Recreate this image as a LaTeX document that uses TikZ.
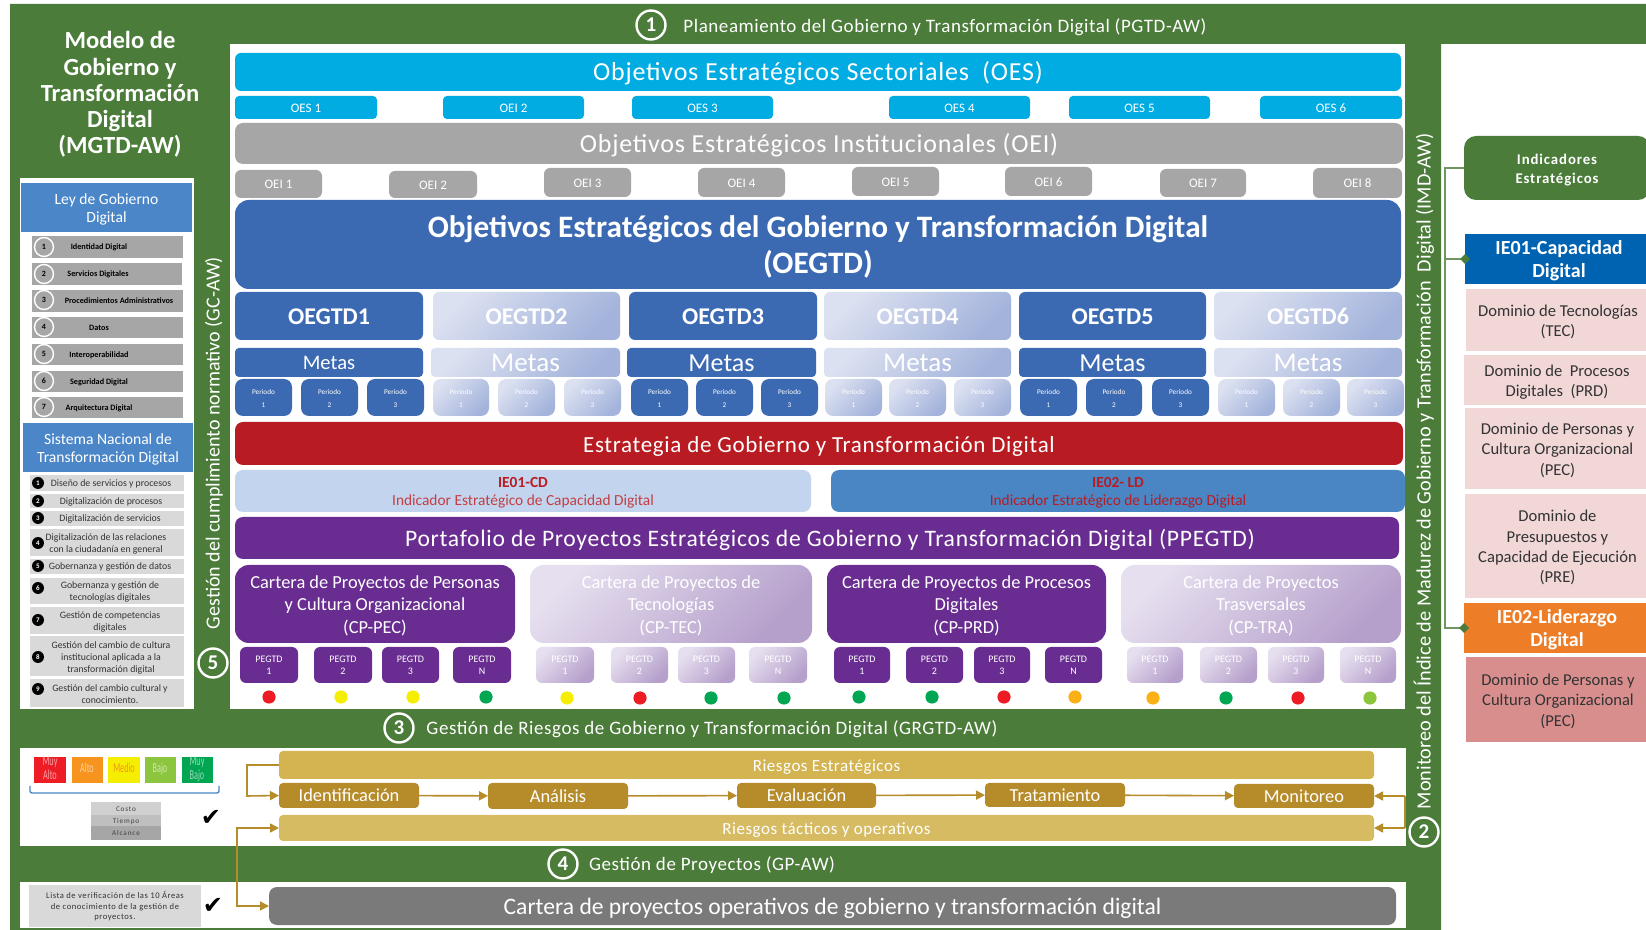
\documentclass[tikz,border=0pt]{standalone}
\usepackage{fontspec}
\usepackage{graphicx}
\setmainfont{Carlito}
\newfontfamily\symfont{DejaVu Sans}
\newfontfamily\widefont[LetterSpace=6]{Carlito}
\newfontfamily\widerfont[LetterSpace=12]{Carlito}
\newfontfamily\lsf[LetterSpace=3]{Carlito}
\usetikzlibrary{arrows.meta}
\definecolor{gr}{HTML}{4B7C39}
\definecolor{cy}{HTML}{00ACE2}
\definecolor{gy}{HTML}{A6A6A6}
\definecolor{bl}{HTML}{3C6AB2}
\definecolor{hb}{HTML}{4A86C8}
\definecolor{pu}{HTML}{692C91}
\definecolor{gd}{HTML}{B68B2A}
\definecolor{gl}{HTML}{D3B451}
\definecolor{gm}{HTML}{D6BB62}
\definecolor{rd}{HTML}{B81C22}
\definecolor{pk}{HTML}{F2D7D7}
\definecolor{cr}{HTML}{ED1C24}
\definecolor{cy1}{HTML}{F5EE00}
\definecolor{cg}{HTML}{00A651}
\definecolor{co}{HTML}{FBB116}
\definecolor{cl}{HTML}{8CC63F}
\definecolor{DCE1F1}{HTML}{DCE1F1}
\definecolor{A3B3DB}{HTML}{A3B3DB}
\definecolor{E6DFEF}{HTML}{E6DFEF}
\definecolor{B59FCB}{HTML}{B59FCB}
\definecolor{D9D9D9}{HTML}{D9D9D9}
\definecolor{C3D5EE}{HTML}{C3D5EE}
\definecolor{4A86C4}{HTML}{4A86C4}
\definecolor{7A7A7A}{HTML}{7A7A7A}
\definecolor{0063B1}{HTML}{0063B1}
\definecolor{ED7D26}{HTML}{ED7D26}
\definecolor{D98E8E}{HTML}{D98E8E}
\definecolor{D0D0D0}{HTML}{D0D0D0}
\definecolor{BFBFBF}{HTML}{BFBFBF}
\definecolor{chr}{HTML}{EE1C25}
\definecolor{cho}{HTML}{F7941D}
\definecolor{chg}{HTML}{8CC63F}
\newcommand\fs[2]{\fontsize{#1}{#2}\selectfont}
\newcommand\lift[1]{\raisebox{-.13em}[\height][\depth]{\begin{tabular}{@{}c@{}}#1\end{tabular}}}
\newcommand\chiptext[1]{\scalebox{.6}[1]{\begin{tabular}{@{}c@{}}#1\end{tabular}}}
\newcommand\bx[7]{\pgfmathsetmacro\bw{(#5-#3)*0.5}\pgfmathsetmacro\bh{(#6-#4)*0.5}%
\node[#2,minimum width=\bw pt,minimum height=\bh pt] (#1) at ({(#3+#5)/2},{(#4+#6)/2}) {\lift{#7}};}
\tikzset{
 base/.style={inner sep=0pt,outer sep=0pt,align=center,text=white},
 rr/.style={base,rounded corners=#1},
 rr/.default=4pt,
 fadeb/.style={rr=#1,top color=DCE1F1,bottom color=A3B3DB,shading angle=45},
 fadeb/.default=3pt,
 fadep/.style={rr=#1,top color=E6DFEF,bottom color=B59FCB,shading angle=45},
 fadep/.default=3pt,
 ring/.style={circle,draw=white,line width=1.2pt,fill=gr,text=white,inner sep=0pt,minimum size=14.5pt,font=\fs{10.5}{12}\bfseries},
 gring/.style={circle,draw=white,line width=.7pt,fill=gy,text=black,inner sep=0pt,minimum size=9.5pt,font=\fs{4}{5}\bfseries},
 bdot/.style={circle,fill=black,text=white,inner sep=0pt,minimum size=6pt,font=\fs{3.5}{4}\bfseries},
 ley/.style={base,fill=gy,text=black,font=\fs{4.1}{4.5}\bfseries},
 sis/.style={base,fill=D9D9D9},
 sist/.style={inner sep=0pt,align=center,text=black!80,font=\fs{4.9}{6}},
 head/.style={base,fill=hb,font=\fs{7.8}{9.1}},
 per/.style={font=\fs{3.6}{6.2}},
 peg/.style={font=\fs{5}{6.2}},
 goldbox/.style={rr=2pt,fill=gd,font=\fs{9.2}{10}},
 goldarrow/.style={draw=gd,line width=.8pt,-{Triangle[length=4.5pt,width=4.5pt]}},
 dom/.style={base,fill=pk,text=black!80,font=\fs{8.3}{10.2}},
 tick/.style={inner sep=0pt,text=black,font=\symfont\fs{12}{12}},
 chip/.style={base,font=\fs{6.8}{6.3}},
 leadline/.style={draw=gr!80!white,line width=.8pt},
 bandt/.style={text=white,font=\lsf\fs{9.5}{11}},
}
\begin{document}
\begin{tikzpicture}[x=0.5pt,y=-0.5pt]
\useasboundingbox (0,0) rectangle (1646,930);
\fill[white] (0,0) rectangle (1646,930);
\fill[gr] (10,4) -- (1646,4) -- (1646,44) -- (1441,44) -- (1441,930) -- (10,930) -- cycle;
\fill[white] (230,44) rectangle (1405,709);
\fill[white] (20,178) rectangle (194,709);
\fill[white] (20,748) rectangle (1406,846);
\fill[white] (20,882) rectangle (1406,928);
% band titles
\node[ring] (c1) at (651,25) {1};
\node[bandt] (t1) at (945,27.5) {Planeamiento del Gobierno y Transformación Digital (PGTD-AW)};
\node[ring] (c3) at (399,728) {3};
\node[bandt] (t3) at (712,729) {Gestión de Riesgos de Gobierno y Transformación Digital (GRGTD-AW)};
\node[ring] (c4) at (563,864) {4};
\node[bandt] (t4) at (712,865) {Gestión de Proyectos (GP-AW)};
\node[ring] (c5) at (213,663) {5};
\node[rotate=90,text=white,font=\fs{10}{12}] (t5) at (214,443) {Gestión del cumplimiento normativo (GC-AW)};
\node[ring] (c2) at (1424,832) {2};
\node[rotate=90,text=white,font=\fs{10.13}{12}] (t2) at (1424,471) {Monitoreo del Índice de Madurez de Gobierno y Transformación\ \ Digital (IMD-AW)};
% left title
\node[base,font=\fs{12.3}{13.1}\bfseries] (title) at (120,94.5) {Modelo de\\Gobierno y\\Transformación\\Digital\\(MGTD-AW)};
% Ley
\bx{ley}{head}{21}{183}{192}{232}{Ley de Gobierno\\Digital}
\bx{l1}{ley}{32}{236}{183}{258}{Identidad Digital\hspace*{8.5pt}}
\bx{l2}{ley}{32}{263}{182}{285}{Servicios Digitales\hspace*{9pt}}
\bx{l3}{ley}{32}{290}{183}{312}{\hspace*{11.5pt}Procedimientos Administrativos}
\bx{l4}{ley}{32}{317}{183}{338}{Datos\hspace*{8.5pt}}
\bx{l5}{ley}{32}{344}{183}{365}{Interoperabilidad\hspace*{8.5pt}}
\bx{l6}{ley}{32}{371}{183}{392}{Seguridad Digital\hspace*{8.5pt}}
\bx{l7}{ley}{32}{397}{183}{418}{Arquitectura Digital\hspace*{8.5pt}}
\foreach \i/\y in {1/247,2/274,3/300,4/327,5/354,6/381,7/407} {\node[gring] (gc\i) at (44,\y) {\i};}
% Sistema
\bx{sn}{head}{23}{423}{193}{472}{Sistema Nacional de\\Transformación Digital}
\bx{s1}{sis}{30}{475}{184}{491}{}
\bx{s2}{sis}{30}{494}{184}{508}{}
\bx{s3}{sis}{30}{511}{184}{526}{}
\bx{s4}{sis}{30}{529}{184}{556}{}
\bx{s5}{sis}{30}{559}{184}{574}{}
\bx{s6}{sis}{30}{578}{184}{604}{}
\bx{s7}{sis}{30}{607}{184}{634}{}
\bx{s8}{sis}{30}{636}{184}{676}{}
\bx{s9}{sis}{30}{679}{184}{707}{}
\node[sist] (st1) at (111,484) {Diseño de servicios y procesos};
\node[sist] (st2) at (111,502) {Digitalización de procesos};
\node[sist] (st3) at (110,519) {Digitalización de servicios};
\node[sist] (st4) at (106,544) {Digitalización de las relaciones\\con la ciudadanía en general};
\node[sist] (st5) at (110,567) {Gobernanza y gestión de datos};
\node[sist] (st6) at (110,592) {Gobernanza y gestión de\\tecnologías digitales};
\node[sist] (st7) at (110,622) {Gestión de competencias\\digitales};
\node[sist] (st8) at (111,658) {Gestión del cambio de cultura\\institucional aplicada a la\\transformación digital};
\node[sist] (st9) at (110,694) {Gestión del cambio cultural y\\conocimiento.};
\foreach \i/\y in {1/483,2/501,3/518,4/543,5/566,6/588,7/620,8/657,9/689} {\node[bdot] (bc\i) at (38,\y) {\i};}
% OES
\bx{oes}{rr=3pt,fill=cy,font=\lsf\fs{13}{14}}{235}{53}{1401}{91}{Objetivos Estratégicos Sectoriales\ \ (OES)}
\foreach \i/\a/\b/\t in {1/235/377/OES 1,2/443/584/OEI 2,3/632/773/OES 3,4/889/1030/OES 4,5/1069/1210/OES 5,6/1260/1402/OES 6}
 {\bx{oes\i}{rr=2pt,fill=cy,font=\fs{6.5}{8}}{\a}{96}{\b}{119}{\t}}
% OEI
\bx{oei}{rr=4pt,fill=gy,font=\lsf\fs{13}{14}}{235}{123}{1403}{164}{Objetivos Estratégicos Institucionales (OEI)}
\foreach \i/\a/\b/\u/\v in {1/235/322/170/198,2/389/477/171/198,3/544/631/168/197,4/698/785/168/197,5/852/939/167/196,6/1005/1092/167/196,7/1160/1246/169/197,8/1313/1402/168/198}
 {\bx{oei\i}{rr=3pt,fill=gy,font=\fs{6.5}{8}}{\a}{\u}{\b}{\v}{OEI \i}}
% OEGTD
\bx{oegtd}{rr=7pt,fill=bl,font=\fs{15.6}{18}\bfseries}{235}{200}{1401}{289}{Objetivos Estratégicos del Gobierno y Transformación Digital\\(OEGTD)}
\bx{o1}{rr=3pt,fill=bl,font=\fs{12}{13}\bfseries}{235}{292}{423}{340}{OEGTD1}
\bx{o2}{fadeb=3pt,font=\fs{12}{13}\bfseries}{433}{292}{620}{340}{OEGTD2}
\bx{o3}{rr=3pt,fill=bl,font=\fs{12}{13}\bfseries}{629}{292}{817}{340}{OEGTD3}
\bx{o4}{fadeb=3pt,font=\fs{12}{13}\bfseries}{824}{292}{1011}{340}{OEGTD4}
\bx{o5}{rr=3pt,fill=bl,font=\fs{12}{13}\bfseries}{1019}{292}{1206}{340}{OEGTD5}
\bx{o6}{fadeb=3pt,font=\fs{12}{13}\bfseries}{1214}{292}{1402}{340}{OEGTD6}
\bx{m1}{rr=2pt,fill=bl,font=\fs{10.3}{11}}{235}{348}{423}{377}{Metas}
\bx{m2}{fadeb=2pt,font=\fs{13.5}{14}}{431}{348}{620}{377}{Metas}
\bx{m3}{rr=2pt,fill=bl,font=\fs{13}{14}}{627}{348}{816}{377}{Metas}
\bx{m4}{fadeb=2pt,font=\fs{13.5}{14}}{824}{348}{1011}{377}{Metas}
\bx{m5}{rr=2pt,fill=bl,font=\fs{13}{14}}{1019}{348}{1206}{377}{Metas}
\bx{m6}{fadeb=2pt,font=\fs{13.5}{14}}{1214}{348}{1402}{377}{Metas}
\foreach \i/\a/\b/\n in {a/235/292/1,b/301/358/2,c/367/424/3,g/631/688/1,h/696/753/2,i/761/818/3,m/1020/1077/1,n/1086/1142/2,o/1152/1209/3}
 {\bx{p\i}{rr=4pt,fill=bl,per}{\a}{379}{\b}{416}{Periodo\\\n}}
\foreach \i/\a/\b/\n in {d/433/489/1,e/498/555/2,f/564/621/3,j/825/882/1,k/889/946/2,l/954/1011/3,q/1218/1275/1,r/1283/1340/2,s/1347/1404/3}
 {\bx{p\i}{fadeb=4pt,per}{\a}{379}{\b}{416}{Periodo\\\n}}
% strategy
\bx{est}{rr=4pt,fill=rd,font=\lsf\fs{11.5}{14}}{235}{422}{1403}{465}{Estrategia de Gobierno y Transformación Digital}
\bx{ie1}{rr=4pt,fill=C3D5EE,text=rd,font=\fs{7.7}{9}}{235}{470}{811}{512}{\textbf{IE01-CD}\\\textcolor{rd!85!white}{Indicador Estratégico de Capacidad Digital}}
\bx{ie2}{rr=4pt,fill=4A86C4,text=rd,font=\fs{7.7}{9}}{831}{470}{1405}{512}{\textbf{IE02- LD}\\Indicador Estratégico de Liderazgo Digital}
\bx{ppe}{rr=4pt,fill=pu,font=\lsf\fs{11.8}{14}}{235}{517}{1399}{559}{\hspace*{13pt}Portafolio de Proyectos Estratégicos de Gobierno y Transformación Digital (PPEGTD)}
\bx{cp1}{rr=7pt,fill=pu,font=\fs{9.2}{11.1}}{235}{565}{515}{643}{Cartera de Proyectos de Personas\\y Cultura Organizacional\\(CP-PEC)}
\bx{cp2}{fadep=7pt,font=\fs{9.2}{11.1}}{530}{565}{812}{643}{Cartera de Proyectos de\\Tecnologías\\(CP-TEC)}
\bx{cp3}{rr=7pt,fill=pu,font=\fs{9.2}{11.1}}{827}{565}{1106}{643}{Cartera de Proyectos de Procesos\\Digitales\\(CP-PRD)}
\bx{cp4}{fadep=7pt,font=\fs{9.2}{11.1}}{1121}{565}{1401}{643}{Cartera de Proyectos\\Trasversales\\(CP-TRA)}
\foreach \i/\a/\b/\n in {a/240/298/1,b/314/372/2,c/382/439/3,d/453/511/N,i/834/890/1,j/906/963/2,k/974/1030/3,l/1045/1102/N}
 {\bx{g\i}{rr=3pt,fill=pu,peg}{\a}{647}{\b}{683}{PEGTD\\\n}}
\foreach \i/\a/\b/\n in {e/536/594/1,f/611/668/2,g/678/735/3,h/749/807/N,m/1127/1183/1,n/1200/1257/2,o/1268/1324/3,p/1340/1396/N}
 {\bx{g\i}{fadep=3pt,peg}{\a}{647}{\b}{683}{PEGTD\\\n}}
\foreach \i/\x/\y/\c in {1/269/697/cr,2/341/697/cy1,3/413/697/cy1,4/486/697/cg,5/567/698/cy1,6/640/698/cr,7/711/698/cg,8/784/698/cg,9/859/697/cg,10/932/697/cg,11/1004/697/cr,12/1075/697/co,13/1153/698/co,14/1226/698/cg,15/1298/698/cr,16/1370/698/cl}
 {\node[circle,fill=\c,inner sep=0pt,minimum size=6.6pt] (d\i) at (\x,\y) {};}
% risk matrix
\fill[chr] (34,757) rectangle (66,783);
\fill[cho] (72,757) rectangle (103,783);
\fill[cy1] (108,757) rectangle (140,783);
\fill[chg] (145,757) rectangle (176,783);
\fill[cg] (182,757) rectangle (213,783);
\node[chip,text=white!60!chr] (k1) at (50,770) {\chiptext{Muy\\Alto}};
\node[chip,text=white!60!cho] (k2) at (87,770) {\chiptext{Alto}};
\node[chip,text=cho] (k3) at (124,770) {\chiptext{Medio}};
\node[chip,text=white!60!chg] (k4) at (160,770) {\chiptext{Bajo}};
\node[chip,text=white!60!cg] (k5) at (197,770) {\chiptext{Muy\\Bajo}};
\draw[draw=hb,line width=.7pt,rounded corners=1pt] (30,786) -- (30,793) -- (219,793) -- (219,786);
\bx{a1}{base,fill=D0D0D0,text=black!75,font=\widerfont\fs{3.6}{4}}{91}{802}{161}{815}{Costo}
\bx{a2}{base,fill=BFBFBF,text=black!75,font=\widerfont\fs{3.6}{4}}{91}{815}{161}{826}{Tiempo}
\bx{a3}{base,fill=gy,text=black!75,font=\widerfont\fs{3.6}{4}}{91}{826}{161}{840}{Alcance}
\node[tick] (ck1) at (211,818) {✔};
\node[tick] (ck2) at (213,906) {✔};
% risk process
\bx{re}{rr=2pt,fill=gl,font=\lsf\fs{8.5}{10}}{279}{751}{1374}{779}{Riesgos Estratégicos}
\bx{ri}{goldbox}{279}{783}{419}{808}{Identificación}
\bx{ra}{goldbox}{488}{783}{628}{809}{Análisis}
\bx{rv}{goldbox}{737}{783}{876}{808}{Evaluación}
\bx{rt}{goldbox}{985}{783}{1125}{807}{Tratamiento}
\bx{rm}{goldbox}{1234}{784}{1374}{808}{Monitoreo}
\bx{rtt}{rr=2pt,fill=gm,font=\lsf\fs{8.5}{10}}{279}{815}{1374}{841}{Riesgos tácticos y operativos}
\draw[goldarrow] (ri) -- (ra);
\draw[goldarrow] (ra) -- (rv);
\draw[goldarrow] (rv) -- (rt);
\draw[goldarrow] (rt) -- (rm);
\draw[goldarrow] (re.west) -- (247,765) -- (247,796) -- (ri.west);
\coordinate (fb1) at (1405,796);
\coordinate (fb2) at (1405,828);
\draw[goldarrow] (fb1) -- (rm.east);
\draw[goldarrow] (fb2) -- (rtt.east);
\draw[draw=gd,line width=.8pt] (fb1) -- (fb2);
% project
\bx{lv}{base,fill=D9D9D9,text=black!80,font=\widefont\fs{4.3}{5.3}}{29}{885}{201}{927}{Lista de verificación de las 10 Áreas\\de conocimiento de la gestión de\\proyectos.}
\bx{cop}{rr=4pt,fill=7A7A7A,font=\fs{11.8}{13}}{269}{887}{1396}{925}{Cartera de proyectos operativos de gobierno y transformación digital}
\draw[goldarrow,{Triangle[length=4.5pt,width=4.5pt]}-{Triangle[length=4.5pt,width=4.5pt]}] (rtt.west) -- (237,828) -- (237,906) -- (cop.west);
% right column
\bx{ind}{rr=6pt,fill=gr,font=\widefont\fs{7.4}{9.5}\bfseries}{1464}{136}{1650}{200}{Indicadores\\Estratégicos}
\bx{ic}{base,fill=0063B1,font=\fs{10}{11.6}\bfseries}{1465}{234}{1653}{284}{IE01-Capacidad\\Digital}
\bx{d1}{dom}{1466}{289}{1650}{351}{Dominio de Tecnologías\\(TEC)}
\bx{d2}{dom}{1464}{355}{1650}{405}{Dominio de\ \ Procesos\\Digitales\ \ (PRD)}
\bx{d3}{dom}{1465}{408}{1650}{489}{Dominio de Personas y\\Cultura Organizacional\\(PEC)}
\bx{d4}{dom}{1465}{494}{1650}{598}{Dominio de\\Presupuestos y\\Capacidad de Ejecución\\(PRE)}
\bx{il}{base,fill=ED7D26,font=\fs{10}{11.6}\bfseries}{1464}{603}{1650}{653}{IE02-Liderazgo\\Digital}
\bx{d5}{dom,fill=D98E8E}{1466}{657}{1650}{742}{Dominio de Personas y\\Cultura Organizacional\\(PEC)}
\draw[leadline] (ind.west) -- (1445,168) -- (1445,628) -- (il.west);
\draw[leadline] (1445,259) -- (ic.west);
\fill[gr] (ic.west) ++(-5,0) -- ++(5,-5) -- ++(5,5) -- ++(-5,5) -- cycle;
\fill[gr] (il.west) ++(-5,0) -- ++(5,-5) -- ++(5,5) -- ++(-5,5) -- cycle;
\end{tikzpicture}
\end{document}
